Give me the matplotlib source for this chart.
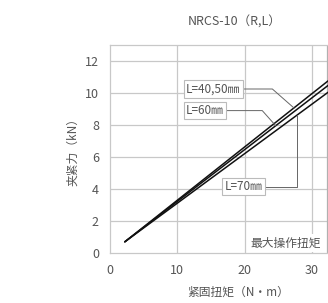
import numpy as np
import matplotlib
matplotlib.use('Agg')
import matplotlib.pyplot as plt

plt.rcParams['font.family'] = ['Noto Sans CJK SC', 'DejaVu Sans']

# torque (N*m) vs clamp force (kN)
torque = [2.2, 34.0]
force_40_50 = [0.7, 11.3]
force_60 = [0.7, 11.0]
force_70 = [0.7, 10.55]
labels = ['L=40,50㎜', 'L=60㎜', 'L=70㎜']

xticks = [0, 10, 20, 30]
yticks = [0, 2, 4, 6, 8, 10, 12]
max_torque = 32.2

txt = '#555555'
grid = '#c8c8c8'

fig = plt.figure(figsize=(3.28, 3.03), dpi=100)
ax = fig.add_axes([110/328, 50/303, 256/328, 208/303])
ax.set_xlim(0, 38)
ax.set_ylim(0, 13)

for y in yticks[1:]:
    ax.axhline(y, color=grid, lw=0.9, zorder=1)
for x in [10, 20, 30]:
    ax.axvline(x, color=grid, lw=0.9, zorder=1)
ax.axvline(max_torque, color='#b0b0b0', lw=0.9, zorder=1)

for f in [force_40_50, force_60, force_70]:
    ax.plot(torque, f, color='#111111', lw=1.1, zorder=3, solid_capstyle='round')

def on_line(f, x):
    return f[0] + (f[1] - f[0]) * (x - torque[0]) / (torque[1] - torque[0])

box = dict(boxstyle='square,pad=0.2', fc='white', ec='#bbbbbb', lw=0.8)
lc = '#666666'
t1 = ax.text(11.3, 10.25, labels[0], fontsize=8.5, color=txt, va='center', bbox=box, zorder=5)
t2 = ax.text(11.3, 8.9, labels[1], fontsize=8.5, color=txt, va='center', bbox=box, zorder=5)
t3 = ax.text(17.0, 4.15, labels[2], fontsize=8.5, color=txt, va='center', bbox=box, zorder=5)

ax.text(20.8, 0.62, '最大操作扭矩', fontsize=8.5, color=txt, va='center',
        bbox=dict(boxstyle='square,pad=0.2', fc='white', ec='none'), zorder=5)

ax.set_xticks(xticks)
ax.set_yticks(yticks)
ax.tick_params(length=0, labelsize=9, labelcolor=txt, pad=8)
for s in ax.spines.values():
    s.set_color(grid)
    s.set_linewidth(0.9)

ax.set_xlabel('紧固扭矩（N・m）', fontsize=8.5, color=txt, labelpad=6)
ax.set_ylabel('夹紧力（kN）', fontsize=8.5, color=txt, labelpad=4)
fig.text(235/328, 1 - 22/303, 'NRCS-10（R,L）', fontsize=9, color=txt, ha='center', va='center')

# leaders start at the right edge of each label box
fig.canvas.draw()
inv = ax.transData.inverted()
def right_edge(t):
    bb = t.get_bbox_patch().get_window_extent()
    return inv.transform((bb.x1, 0))[0]

x1 = right_edge(t1)
ax.plot([x1, 24.1, 27.3], [10.25, 10.25, on_line(force_40_50, 27.3)], color=lc, lw=0.7, zorder=4)
x2 = right_edge(t2)
ax.plot([x2, 22.6, 24.6], [8.9, 8.9, on_line(force_60, 24.6)], color=lc, lw=0.7, zorder=4)
x3 = right_edge(t3)
ax.plot([x3, 27.8, 27.8], [4.15, 4.15, on_line(force_70, 27.8)], color=lc, lw=0.7, zorder=4)

fig.savefig('out.png', dpi=100)
